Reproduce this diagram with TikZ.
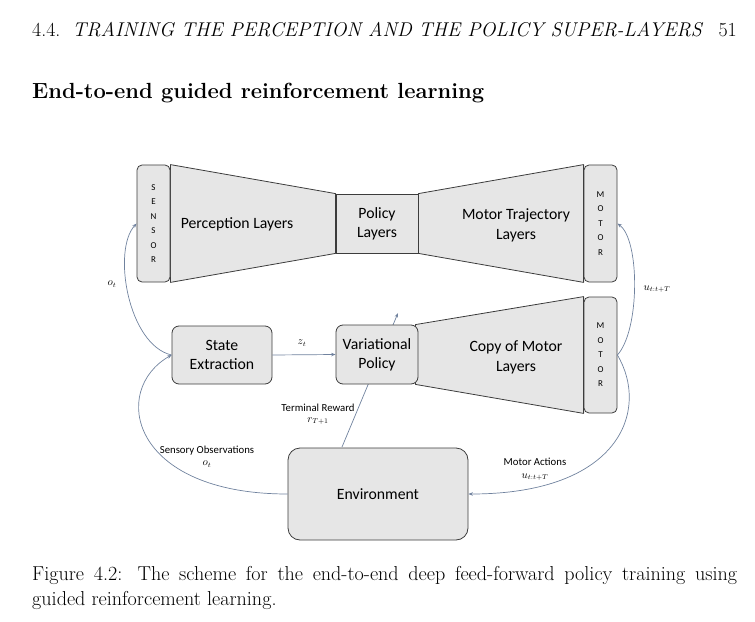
\documentclass[tikz,border=0pt]{standalone}
\usepackage{fontspec}
\newfontfamily\diafont{Carlito}
\usetikzlibrary{arrows.meta,backgrounds}
\definecolor{lnk}{RGB}{112,130,158}
\definecolor{boxfill}{RGB}{230,230,230}
\definecolor{boxdraw}{RGB}{60,60,60}
\tikzset{
  box/.style={draw=boxdraw,fill=boxfill,line width=0.8pt,inner sep=0pt,align=center,
    font=\diafont\fontsize{15.8}{19}\selectfont},
  rbox/.style={box,rounded corners=7bp},
  side/.style={rbox,rounded corners=5bp,minimum width=33bp,minimum height=117bp,
    font=\diafont\fontsize{9}{14.5}\selectfont},
  trap/.style={draw=boxdraw,fill=boxfill,line width=0.8pt,line join=round},
  arr/.style={draw=lnk,line width=0.7pt,-{Stealth[length=4.5pt,width=3.5pt]}},
  lbl/.style={font=\diafont\fontsize{10.8}{12}\selectfont,inner sep=0pt},
  mlbl/.style={font=\fontsize{10.5}{12}\selectfont,inner sep=0pt},
  txt/.style={inner sep=0pt,anchor=base west}
}
\begin{document}
\begin{tikzpicture}[x=1bp,y=-1bp]
\useasboundingbox (0,0) rectangle (755,622);
% page text
\node[txt] (hdr) at (32,37) {\fontsize{20}{24}\selectfont 4.4.\hspace{0.6em}\textit{TRAINING THE PERCEPTION AND THE POLICY SUPER-LAYERS}};
\node[inner sep=0pt,anchor=base east] (pg) at (737,37) {\fontsize{20}{24}\selectfont 51};
\node[txt] (ttl) at (32,99) {\fontsize{22}{26}\selectfont\bfseries End-to-end guided reinforcement learning};
\node[txt] (cap1) at (32,580) {\fontsize{20.2}{24}\selectfont\makebox[705bp][s]{Figure 4.2: The scheme for the end-to-end deep feed-forward policy training using}};
\node[txt] (cap2) at (32,605) {\fontsize{20.2}{24}\selectfont guided reinforcement learning.};

% upper row
\node[side] (sen) at (153.5,223.5) {S\\E\\N\\S\\O\\R};
\node[box,minimum width=82bp,minimum height=59bp] (pol) at (377,223.5) {Policy\\Layers};
\node[side] (mo1) at (600.5,223.5) {M\\O\\T\\O\\R};
\node[inner sep=0pt,font=\diafont\fontsize{15.8}{19}\selectfont] (perc) at (237,224) {Perception Layers};
\node[inner sep=0pt,align=center,font=\diafont\fontsize{15.8}{20}\selectfont] (mtl) at (516,225) {Motor Trajectory\\Layers};

% lower row
\draw[arr] (342,447) coordinate (tra) -- (398,313) coordinate (trb);
\node[rbox,minimum width=100bp,minimum height=58bp] (se) at (222,355) {State\\Extraction};
\node[rbox,minimum width=82bp,minimum height=59bp] (vp) at (377,354.5) {Variational\\Policy};
\node[side,minimum height=116bp] (mo2) at (600.5,355) {M\\O\\T\\O\\R};
\node[inner sep=0pt,align=center,font=\diafont\fontsize{15.8}{20}\selectfont] (cml) at (516,357) {Copy of Motor\\Layers};
\node[rbox,rounded corners=12bp,minimum width=180bp,minimum height=92bp] (env) at (378,494) {Environment};

\begin{pgfonlayer}{background}
\draw[trap] (sen.north east) -- (pol.north west) -- (pol.south west) -- (sen.south east) -- cycle;
\draw[trap] (pol.north east) -- (mo1.north west) -- (mo1.south west) -- (pol.south east) -- cycle;
\draw[trap] ([xshift=-3bp]vp.north east) -- (mo2.north west) -- (mo2.south west) -- ([xshift=-3bp]vp.south east) -- cycle;
\end{pgfonlayer}

% connectors
\draw[arr] (se.west) .. controls (128,345) and (112,250) .. (sen.west);
\draw[arr] (env.west) .. controls (130,494) and (110,390) .. (se.west);
\draw[arr] (se.east) -- (vp.west);
\draw[arr] (mo2.east) .. controls (640,330) and (640,240) .. (mo1.east);
\draw[arr] (mo2.east) .. controls (650,410) and (620,494) .. (env.east);

% labels
\node[mlbl] (lo1) at (112,284) {$o_t$};
\node[mlbl] (lz) at (302,343) {$z_t$};
\node[mlbl] (lu1) at (657,289) {$u_{t:t+T}$};
\node[lbl] (lso) at (207,451) {Sensory Observations};
\node[mlbl] (lso2) at (207,464) {$o_t$};
\node[lbl] (ltr) at (318,408) {Terminal Reward};
\node[mlbl] (ltr2) at (318,421) {$r_{T+1}$};
\node[lbl] (lma) at (535,462) {Motor Actions};
\node[mlbl] (lma2) at (535,477) {$u_{t:t+T}$};
\end{tikzpicture}
\end{document}
